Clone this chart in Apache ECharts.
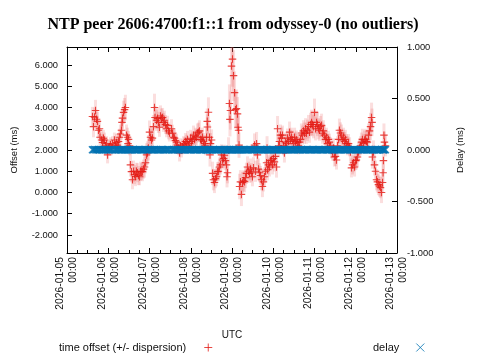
<!DOCTYPE html>
<html><head><meta charset="utf-8">
<script src="https://cdn.jsdelivr.net/npm/echarts@6/dist/echarts.min.js"></script>
<style>html,body{margin:0;padding:0;background:#fff}#c{width:480px;height:360px}</style>
</head><body><div id="c"></div>
<script>
// hours since 2026-01-05 00:00 UTC
const hours = [
14.8,15.4,16.0,16.6,17.2,17.7,18.3,18.9,19.2,20.1,
20.7,21.2,21.8,22.4,23.0,23.6,24.1,24.7,25.3,25.9,
26.5,27.6,28.2,28.8,29.4,30.0,30.5,31.1,31.7,32.0,
32.3,32.9,33.5,34.0,34.6,35.2,35.5,35.8,36.4,36.9,
37.5,38.1,38.7,39.3,39.9,40.4,41.0,41.6,42.2,42.8,
43.3,43.9,44.5,45.1,45.7,46.3,46.8,47.4,48.0,48.6,
49.2,49.7,50.3,50.9,51.2,52.1,52.7,53.2,53.8,54.4,
55.0,55.6,56.1,56.7,57.3,57.9,58.5,59.1,59.6,60.8,
61.4,62.0,62.5,63.1,63.7,64.3,64.9,65.5,66.0,66.6,
67.2,67.8,68.4,68.9,69.5,70.1,70.7,71.3,71.9,72.4,
73.0,73.6,74.2,74.8,75.3,75.9,76.5,77.1,77.7,78.3,
78.8,79.4,80.0,80.6,81.2,81.6,81.7,82.3,82.9,83.2,
83.5,84.1,84.7,85.2,85.8,86.4,87.0,87.6,88.1,88.7,
89.3,89.9,90.5,91.1,91.6,92.2,92.8,93.1,93.4,94.0,
94.5,94.8,95.1,95.7,96.3,96.9,97.5,98.0,98.6,99.2,
99.5,99.8,100.1,100.4,100.9,101.5,102.1,102.7,103.3,103.9,
104.4,105.0,105.6,106.2,106.8,107.3,107.9,108.5,109.1,109.7,
110.3,110.8,111.4,112.0,112.6,113.2,113.7,114.3,114.9,115.5,
116.1,116.4,116.7,117.2,117.8,118.4,119.0,119.6,120.1,120.7,
121.3,121.9,122.5,123.1,123.6,124.2,124.8,125.4,126.0,126.5,
127.1,127.7,128.3,128.9,129.5,130.0,130.6,131.2,131.8,132.4,
132.9,133.5,134.1,134.7,135.3,135.9,136.4,137.0,137.6,138.2,
138.8,139.3,139.9,140.5,141.1,141.7,142.3,142.8,143.4,144.0,
144.6,145.2,145.7,146.3,146.9,147.5,148.1,148.7,149.2,149.8,
150.4,151.0,151.6,152.1,152.7,153.3,153.9,154.5,155.1,155.6,
156.2,156.8,157.4,158.0,158.5,159.1,159.7,160.3,160.9,161.5,
162.0,162.6,163.2,163.8,164.4,164.9,165.5,166.1,166.7,167.3,
167.9,168.4,169.0,169.6,170.2,170.8,171.3,171.9,172.5,173.1,
173.7,174.2,174.8,175.4,176.0,176.6,177.2,177.5,177.7,178.3,
178.9,179.5,180.1,180.6,181.2,181.8,182.4,183.0,183.6,183.9,
184.1,184.4,184.7,185.3
];
// offset (ms)
const offset = [
3.58,3.10,3.55,3.86,3.45,3.35,2.93,3.00,2.60,2.47,
2.35,2.55,2.47,2.20,2.30,1.77,2.10,2.15,2.25,2.10,
2.30,2.47,2.20,2.35,2.23,2.40,2.60,2.75,2.93,3.30,
3.50,3.77,3.90,4.00,2.70,2.60,2.30,2.50,2.20,1.30,
0.98,0.60,1.00,0.84,0.75,1.00,0.93,0.80,0.74,1.00,
0.98,0.98,1.10,1.20,1.40,1.77,1.86,2.10,2.84,2.60,
2.47,2.56,3.10,4.00,3.53,3.40,3.49,3.30,3.07,3.60,
3.50,3.53,3.30,3.40,3.20,3.00,3.16,2.90,2.80,3.00,
2.79,2.60,2.56,2.45,2.37,2.23,2.10,1.86,2.20,2.00,
2.15,2.30,2.25,2.40,2.37,2.50,2.20,2.30,2.55,2.40,
2.47,2.70,2.50,2.65,2.60,2.80,2.84,2.90,2.50,2.47,
2.60,2.40,2.30,2.20,2.60,3.35,3.08,3.78,2.60,1.77,
2.30,2.47,0.90,0.60,0.47,0.65,0.74,0.98,1.00,1.20,
1.30,1.77,1.53,1.60,1.75,1.50,1.30,0.74,0.93,2.00,
4.19,3.44,3.86,5.95,6.28,5.50,4.70,3.90,3.95,3.70,
3.07,2.93,2.23,0.28,0.50,-0.09,0.47,0.55,0.51,0.70,
0.90,1.20,1.00,0.90,1.10,0.93,0.74,1.16,2.23,1.00,
2.30,1.77,1.10,0.93,0.80,0.60,0.28,0.50,0.74,1.00,
1.40,2.10,1.07,1.30,1.20,1.50,1.53,1.30,1.60,1.44,
1.70,1.20,3.00,2.20,2.40,2.70,2.56,2.70,2.20,1.86,
2.37,2.30,2.56,2.40,2.84,2.50,2.60,2.47,2.30,2.60,
2.40,2.47,2.37,2.20,2.37,2.50,2.80,2.70,2.90,2.79,
3.00,2.79,2.93,3.10,2.84,3.20,3.30,3.20,3.10,3.77,
3.00,3.30,3.20,3.00,2.93,3.10,3.16,2.79,2.90,2.70,
2.50,2.60,2.30,2.50,2.37,2.20,2.00,1.90,2.10,1.67,
1.70,1.53,2.20,2.50,2.93,2.80,2.70,2.47,2.60,2.40,
2.50,2.30,2.20,2.30,2.15,1.90,1.16,1.30,1.40,1.20,
1.50,1.53,1.67,1.90,2.10,2.20,2.37,2.50,2.30,2.47,
2.50,2.40,2.37,2.70,2.90,3.10,3.53,3.30,1.67,1.90,
1.30,1.00,0.60,0.50,0.37,0.30,0.23,0.00,0.47,0.93,
1.50,2.70,2.37,2.20
];
// dispersion (ms)
const dispersion = [
.45,.50,.45,.50,.45,.45,.40,.40,.40,.40,
.40,.40,.35,.40,.35,.40,.35,.35,.35,.35,
.35,.35,.35,.40,.35,.40,.40,.45,.45,.50,
.50,.55,.55,.60,.50,.45,.45,.40,.45,.55,
.50,.45,.50,.45,.45,.40,.45,.45,.40,.45,
.40,.45,.45,.50,.50,.55,.55,.60,.55,.50,
.50,.50,.55,.65,.55,.50,.50,.50,.45,.50,
.45,.45,.45,.45,.45,.40,.45,.40,.40,.45,
.40,.40,.40,.40,.40,.35,.35,.40,.35,.35,
.35,.35,.35,.40,.35,.40,.35,.35,.40,.40,
.40,.45,.40,.40,.40,.45,.45,.50,.45,.45,
.45,.40,.40,.45,.50,.60,.60,.70,.60,.55,
.50,.50,.55,.50,.50,.45,.45,.45,.45,.45,
.45,.50,.45,.45,.50,.45,.50,.50,.50,.60,
.90,.80,.90,1.20,1.30,1.20,1.00,.90,.90,.80,
.70,.70,.60,.60,.55,.55,.50,.50,.50,.50,
.50,.50,.45,.45,.50,.45,.45,.50,.55,.50,
.55,.50,.50,.45,.45,.50,.50,.45,.45,.50,
.50,.55,.50,.45,.45,.45,.45,.45,.45,.45,
.45,.50,.60,.55,.50,.50,.50,.45,.45,.45,
.45,.45,.45,.45,.50,.45,.45,.45,.45,.45,
.45,.45,.40,.40,.40,.45,.45,.45,.50,.50,
.50,.50,.50,.55,.50,.55,.60,.55,.55,.65,
.55,.55,.55,.50,.50,.50,.55,.50,.50,.45,
.45,.45,.45,.40,.40,.40,.40,.40,.45,.45,
.45,.45,.45,.50,.55,.50,.50,.45,.45,.45,
.45,.45,.45,.45,.45,.45,.45,.45,.45,.45,
.45,.45,.45,.45,.45,.45,.45,.50,.45,.45,
.50,.50,.50,.55,.60,.65,.70,.65,.55,.55,
.50,.50,.50,.50,.50,.50,.50,.50,.50,.50,
.55,.55,.50,.50
];
// delay (ms)
const delay = [
.003,.002,.004,.003,.002,.003,.004,.002,.003,.003,
.002,.003,.003,.004,.002,.003,.002,.003,.004,.003,
.003,.002,.003,.003,.004,.003,.002,.003,.003,.002,
.004,.003,.003,.002,.003,.004,.003,.002,.003,.003,
.002,.003,.004,.003,.003,.002,.003,.003,.004,.002,
.003,.003,.002,.004,.003,.003,.002,.003,.003,.004,
.003,.002,.003,.004,.003,.003,.002,.003,.003,.002,
.003,.004,.003,.002,.003,.003,.004,.003,.002,.003,
.003,.003,.002,.004,.003,.003,.002,.003,.004,.003,
.002,.003,.003,.003,.004,.002,.003,.003,.002,.003,
.004,.003,.003,.002,.003,.003,.004,.003,.003,.002,
.003,.002,.004,.003,.003,.002,.003,.004,.003,.003,
.002,.003,.003,.004,.002,.003,.003,.003,.002,.004,
.003,.003,.002,.003,.004,.003,.003,.002,.003,.003,
.004,.003,.002,.003,.003,.004,.003,.003,.002,.003,
.003,.002,.004,.003,.003,.002,.003,.003,.004,.003,
.002,.003,.003,.004,.003,.002,.003,.003,.003,.004,
.003,.002,.003,.003,.004,.003,.002,.003,.003,.002,
.003,.004,.003,.003,.002,.003,.003,.004,.003,.002,
.003,.003,.002,.004,.003,.003,.003,.002,.003,.004,
.003,.003,.002,.003,.003,.004,.002,.003,.003,.003,
.004,.002,.003,.003,.003,.002,.004,.003,.003,.002,
.003,.003,.004,.003,.002,.003,.003,.004,.003,.003,
.002,.003,.003,.002,.004,.003,.003,.002,.003,.004,
.003,.003,.002,.003,.003,.004,.003,.002,.003,.003,
.004,.003,.003,.002,.003,.003,.002,.004,.003,.003,
.003,.002,.003,.004,.003,.003,.002,.003,.003,.004,
.002,.003,.003,.003,.004,.002,.003,.003,.002,.003,
.004,.003,.003,.002,.003,.003,.004,.003,.002,.003,
.003,.004,.002,.003,.003,.003,.002,.004,.003,.003,
.002,.003,.004,.003
];
const offsetTicks = [-2,-1,0,1,2,3,4,5,6];
const titleText = 'NTP peer 2606:4700:f1::1 from odyssey-0 (no outliers)';
const offsetName = 'time offset (+/- dispersion)';
const delayName = 'delay';

const BASE = Date.UTC(2026,0,5);
const END = Date.UTC(2026,0,13);
const HOUR = 3600000, DAY = 86400000;
const RED = '#e41a14', BLUE = '#0072b2';
const PLUS = 'path://M0,5L10,5M5,0L5,10';
const CROSS = 'path://M0,0L10,10M10,0L0,10';
const FONT = 'Liberation Sans';
const TXT = '#111';

const offData = hours.map((h,i)=>[BASE+h*HOUR, offset[i], dispersion[i]]);
const delData = hours.map((h,i)=>[BASE+h*HOUR, delay[i]]);

function p2(n){return String(n).padStart(2,'0');}
function fmtDate(v){const d=new Date(v);return d.getUTCFullYear()+'-'+p2(d.getUTCMonth()+1)+'-'+p2(d.getUTCDate())+'\n'+p2(d.getUTCHours())+':'+p2(d.getUTCMinutes());}

const axisLine = {show:true, onZero:false, lineStyle:{color:'#000', width:1}};
const chart = echarts.init(document.getElementById('c'), null, {renderer:'canvas'});
chart.setOption({
  animation:false,
  backgroundColor:'#fff',
  title:{text:titleText, left:228, top:12, textAlign:'center',
    textStyle:{fontFamily:'Liberation Serif', fontWeight:'bold', fontSize:16, color:'#000'}},
  grid:{left:67, right:83, top:47, bottom:107, containLabel:false},
  legend:[
    {left:54, top:337, align:'right', itemWidth:8, itemHeight:8, selectedMode:false,
     data:[{name:offsetName, icon:PLUS, itemStyle:{color:'rgba(0,0,0,0)', borderColor:RED, borderWidth:1}}],
     textStyle:{fontFamily:FONT, fontSize:11, color:TXT, padding:[0,13,0,0]}},
    {left:368, top:337, align:'right', itemWidth:8, itemHeight:8, selectedMode:false,
     data:[{name:delayName, icon:CROSS, itemStyle:{color:'rgba(0,0,0,0)', borderColor:BLUE, borderWidth:1}}],
     textStyle:{fontFamily:FONT, fontSize:11, color:TXT, padding:[0,12,0,0]}}
  ],
  xAxis:[
    {type:'value', position:'bottom', min:BASE, max:END, interval:DAY,
     name:'UTC', nameLocation:'middle', nameGap:77,
     nameTextStyle:{fontFamily:FONT, fontSize:10, color:TXT},
     axisLine:axisLine, axisTick:{inside:true, length:5, lineStyle:{color:'#000'}},
     minorTick:{show:true, splitNumber:4, length:3, lineStyle:{color:'#000'}},
     splitLine:{show:false},
     axisLabel:{rotate:90, margin:4, fontFamily:FONT, fontSize:10.3, color:TXT, lineHeight:13, formatter:fmtDate}},
    {type:'value', position:'top', min:BASE, max:END, interval:DAY,
     axisLine:axisLine, axisTick:{inside:true, length:5, lineStyle:{color:'#000'}},
     minorTick:{show:true, splitNumber:4, length:3, lineStyle:{color:'#000'}},
     splitLine:{show:false}, axisLabel:{show:false}}
  ],
  yAxis:[
    {type:'value', position:'left', min:-2.85, max:6.85,
     name:'Offset (ms)', nameLocation:'middle', nameGap:48,
     nameTextStyle:{fontFamily:FONT, fontSize:9.5, color:TXT},
     axisLine:axisLine,
     axisTick:{inside:true, length:5, customValues:offsetTicks, lineStyle:{color:'#000'}},
     splitLine:{show:false},
     axisLabel:{customValues:offsetTicks, margin:9, fontFamily:FONT, fontSize:9.3, color:TXT, formatter:v=>v.toFixed(3)}},
    {type:'value', position:'right', min:-1, max:1, interval:0.5,
     name:'Delay (ms)', nameLocation:'middle', nameGap:58,
     nameTextStyle:{fontFamily:FONT, fontSize:9.5, color:TXT},
     axisLine:axisLine, axisTick:{inside:true, length:5, lineStyle:{color:'#000'}},
     splitLine:{show:false},
     axisLabel:{margin:10, fontFamily:FONT, fontSize:9.3, color:TXT, formatter:v=>v.toFixed(3)}}
  ],
  series:[
    {type:'custom', name:'dispersion', xAxisIndex:0, yAxisIndex:0, data:offData, encode:{x:0,y:1}, clip:true, silent:true, z:1,
     renderItem:function(params, api){
       const x=api.value(0), y=api.value(1), d=api.value(2);
       const a=api.coord([x,y+d]), b=api.coord([x,y-d]);
       return {type:'rect', shape:{x:a[0]-1.5, y:a[1], width:3, height:b[1]-a[1]}, style:{fill:'rgba(235,90,90,0.2)'}};
     }},
    {type:'scatter', name:offsetName, xAxisIndex:0, yAxisIndex:0, data:offData.map(r=>[r[0],r[1]]),
     symbol:PLUS, symbolSize:7.5, z:3,
     itemStyle:{color:'rgba(0,0,0,0)', borderColor:RED, borderWidth:1.1},
     emphasis:{disabled:true}},
    {type:'scatter', name:delayName, xAxisIndex:0, yAxisIndex:1, data:delData,
     symbol:CROSS, symbolSize:7, z:4,
     itemStyle:{color:'rgba(0,0,0,0)', borderColor:BLUE, borderWidth:1.5},
     emphasis:{disabled:true}}
  ]
});
</script></body></html>
